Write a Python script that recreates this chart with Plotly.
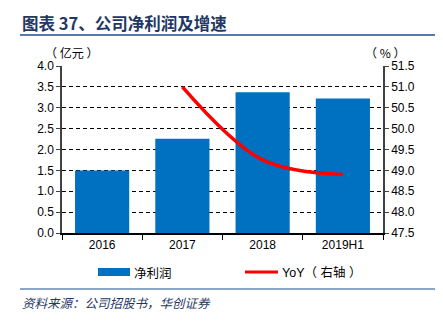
import plotly.graph_objects as go

categories = ["2016", "2017", "2018", "2019H1"]
net_profit = [1.5, 2.26, 3.37, 3.22]
yoy_x = ["2017", "2018", "2019H1"]
yoy = [51.0, 49.25, 48.9]
left_ticks = [0.0, 0.5, 1.0, 1.5, 2.0, 2.5, 3.0, 3.5, 4.0]
right_ticks = [47.5, 48.0, 48.5, 49.0, 49.5, 50.0, 50.5, 51.0, 51.5]

W, H = 443, 321
L, R, T, B = 62, 60, 66, 88

fig = go.Figure()
fig.add_trace(go.Bar(x=categories, y=net_profit, marker=dict(color="#0070C0", line=dict(width=0)),
                     width=0.675, name="净利润", yaxis="y"))
fig.add_trace(go.Scatter(x=yoy_x, y=yoy, mode="lines", line=dict(color="#FF0000", width=3.5, shape="spline", smoothing=1.0),
                         name="YoY（右轴）", yaxis="y2"))

tickfont = dict(family="Liberation Sans, Arial", size=12, color="#000000")

fig.update_layout(
    width=W, height=H,
    margin=dict(l=L, r=R, t=T, b=B),
    paper_bgcolor="white", plot_bgcolor="white",
    showlegend=False,
    bargap=0.325,
    xaxis=dict(type="category", showline=True, linecolor="#000000", linewidth=1.5,
               ticks="outside", ticklen=5, tickcolor="#000000", tickson="boundaries",
               tickfont=tickfont, showgrid=False, fixedrange=True),
    yaxis=dict(range=[0, 4.0], tickvals=left_ticks, ticktext=[f"{v:.1f}" for v in left_ticks],
               showline=True, linecolor="#404040", linewidth=1.5, ticks="outside", ticklen=4,
               tickcolor="#404040", showgrid=True, gridcolor="#000000", gridwidth=1, griddash="4px,3px",
               zeroline=False, tickfont=tickfont),
    yaxis2=dict(range=[47.5, 51.5], tickvals=right_ticks, ticktext=[f"{v:.1f}" for v in right_ticks],
                overlaying="y", side="right", showline=True, linecolor="#404040", linewidth=1.5,
                ticks="outside", ticklen=4, tickcolor="#404040", showgrid=False, zeroline=False,
                tickfont=tickfont),
)

# pixel -> paper (relative to plot area)
def ax(x):
    return (x - L) / (W - L - R)

def ay(y):
    return (H - B - y) / (H - T - B)

shapes = [
    dict(type="line", x0=ax(20), x1=ax(435), y0=ay(35), y1=ay(35), line=dict(color="#1F4E8C", width=1.5)),
    dict(type="line", x0=ax(20), x1=ax(435), y0=ay(289), y1=ay(289), line=dict(color="#1F4E8C", width=1.2)),
    dict(type="rect", x0=ax(98), x1=ax(130), y0=ay(276), y1=ay(268), fillcolor="#0070C0", line=dict(width=0)),
    dict(type="line", x0=ax(245), x1=ax(278), y0=ay(272), y1=ay(272), line=dict(color="#FF0000", width=3)),
]
for s in shapes:
    s.update(xref="paper", yref="paper")
fig.update_layout(shapes=shapes)

cjk = "Noto Sans CJK SC"
annotations = [
    dict(text="<b>图表 37、公司净利润及增速</b>", x=ax(20), y=ay(23), xanchor="left", yanchor="middle",
         font=dict(family=cjk, size=16.5, color="#1F3864")),
    dict(text="（ 亿元 ）", x=ax(43), y=ay(52), xanchor="left", yanchor="middle",
         font=dict(family=cjk, size=12, color="#000000")),
    dict(text="（ % ）", x=ax(363), y=ay(52), xanchor="left", yanchor="middle",
         font=dict(family=cjk, size=12, color="#000000")),
    dict(text="净利润", x=ax(132), y=ay(272), xanchor="left", yanchor="middle",
         font=dict(family=cjk, size=12.5, color="#000000")),
    dict(text="YoY（ 右轴 ）", x=ax(280), y=ay(272), xanchor="left", yanchor="middle",
         font=dict(family="Liberation Sans, " + cjk, size=12.5, color="#000000")),
    dict(text="<i>资料来源：公司招股书，华创证券</i>", x=ax(20), y=ay(302), xanchor="left", yanchor="middle",
         font=dict(family=cjk, size=12.5, color="#1F3864")),
]
for a in annotations:
    a.update(xref="paper", yref="paper", showarrow=False)
fig.update_layout(annotations=annotations)

fig.write_html("out.html")
